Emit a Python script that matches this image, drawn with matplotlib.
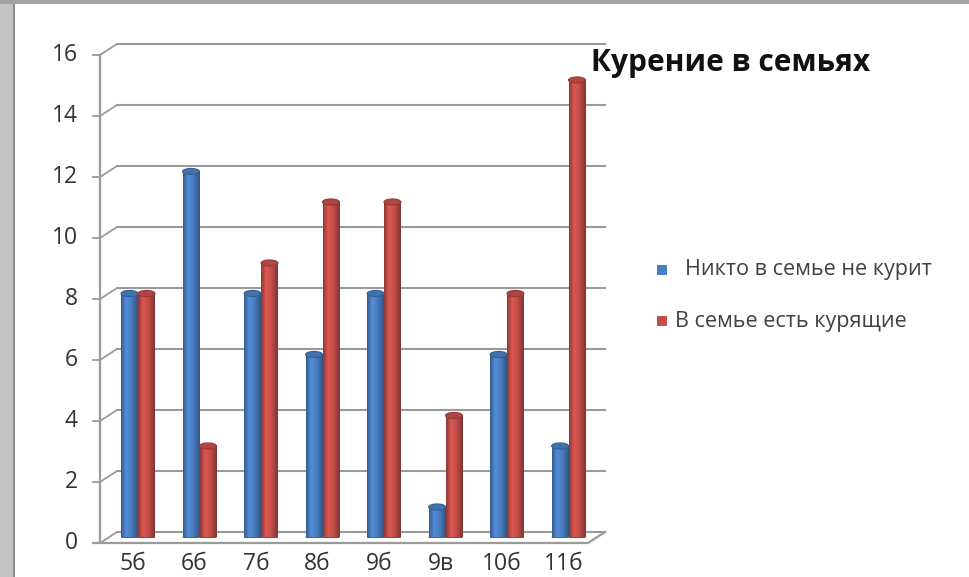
import numpy as np
import matplotlib
matplotlib.use("Agg")
import matplotlib.pyplot as plt
from matplotlib.colors import LinearSegmentedColormap
from matplotlib.patches import Rectangle, Ellipse

# data
classes = ["5б", "6б", "7б", "8б", "9б", "9в", "10б", "11б"]
no_smokers = [8, 12, 8, 6, 8, 1, 6, 3]
smokers = [8, 3, 9, 11, 11, 4, 8, 15]
series_names = ["Никто в семье не курит", "В семье есть курящие"]
title = "Курение в семьях"
yticks = [0, 2, 4, 6, 8, 10, 12, 14, 16]

W, H = 969, 577
fig = plt.figure(figsize=(W / 100, H / 100), dpi=100)
fig.patch.set_facecolor("white")

def fx(px):
    return px / W

def fy(py):
    return 1 - py / H

# grey frame of the slide around the chart
fig.add_artist(Rectangle((0, 0), fx(14), 1, transform=fig.transFigure,
                         facecolor="#c4c4c4", edgecolor="none"))
fig.add_artist(Rectangle((fx(13), 0), fx(2), fy(4), transform=fig.transFigure,
                         facecolor="#8e8e8e", edgecolor="none"))
fig.add_artist(Rectangle((0, fy(4)), 1, 1 - fy(4), transform=fig.transFigure,
                         facecolor="#a4a4a4", edgecolor="none"))

# plot area (mid depth of the 3d box)
ax = fig.add_axes([fx(108.5), 39.5 / H, 488 / W, 488 / H])
ax.set_facecolor("none")
x0, x1 = -0.48, 7.455
ax.set_xlim(x0, x1)
ax.set_ylim(0, 16)
ax.axis("off")

dx, dy = 0.138, 0.18  # half depth of the box in data units
grid_c = "#9a9a9a"

# back wall gridlines and left side connectors
for v in yticks:
    ax.plot([x0 + dx, x1 + dx], [v + dy, v + dy], color=grid_c, lw=1.5, zorder=1,
            clip_on=False)
    ax.plot([x0 - dx, x0 + dx], [v - dy, v + dy], color=grid_c, lw=1.3, zorder=1,
            clip_on=False)
    ax.plot([x0 - dx - 0.11, x0 - dx], [v - dy, v - dy], color=grid_c, lw=1.3,
            clip_on=False)
    ax.text(x0 - dx - 0.36, v - dy, str(v), ha="right", va="center",
            fontsize=16.5, color="#333333", family="Open Sans")

# front axis and floor
ax.plot([x0 - dx, x0 - dx], [-dy, 16 - dy], color=grid_c, lw=1.6, clip_on=False)
ax.plot([x0 - dx - 0.11, x1 - dx, x1 + dx], [-dy, -dy, dy], color=grid_c, lw=1.6,
        clip_on=False, zorder=1)

# cylinder-like bars
def shade(rgb):
    base = np.array(rgb) / 255
    dark = base * 0.72
    light = np.clip(base * 1.12, 0, 1)
    return LinearSegmentedColormap.from_list(
        "c", [(0, dark), (0.3, light), (0.6, base), (1, dark * 0.92)])

profile = np.linspace(0, 1, 64).reshape(1, -1)
bw = 0.275
cols = [(74, 126, 194), (196, 78, 74)]
cmaps = [shade(c) for c in cols]
for i in range(len(classes)):
    for k, vals in enumerate([no_smokers, smokers]):
        left = i - bw + k * bw
        h = vals[i]
        ax.imshow(profile, cmap=cmaps[k], extent=[left, left + bw, 0, h],
                  aspect="auto", zorder=3, interpolation="bilinear")
        top = np.array(cols[k]) / 255
        ax.add_patch(Ellipse((left + bw / 2, h), bw, 0.2,
                             facecolor=np.clip(top * 0.9, 0, 1),
                             edgecolor=np.clip(top * 0.75, 0, 1), lw=0.8,
                             zorder=4))
        ax.add_patch(Ellipse((left + bw / 2, 0), bw, 0.2,
                             facecolor=np.clip(top * 0.8, 0, 1),
                             edgecolor="none", zorder=2))
ax.set_xlim(x0, x1)
ax.set_ylim(0, 16)

for i, c in enumerate(classes):
    ax.text(i - 0.08, -dy - 0.68, c, ha="center", va="center", fontsize=16.5,
            color="#333333", family="Open Sans")

# title and legend
fig.text(fx(591), fy(63), title, ha="left", va="center", fontsize=21.5,
         fontweight="bold", color="#111111", family="Open Sans")

leg_y = [270, 321]
leg_x = [685, 675]
for k in range(2):
    fig.add_artist(Rectangle((fx(657), fy(leg_y[k] + 5)), fx(10), 10 / H,
                             transform=fig.transFigure,
                             facecolor=np.array(cols[k]) / 255, edgecolor="none"))
    fig.text(fx(leg_x[k]), fy(leg_y[k]), series_names[k], ha="left", va="center",
             fontsize=15.5, color="#404040", family="Open Sans")

fig.savefig("out.png", dpi=100)
